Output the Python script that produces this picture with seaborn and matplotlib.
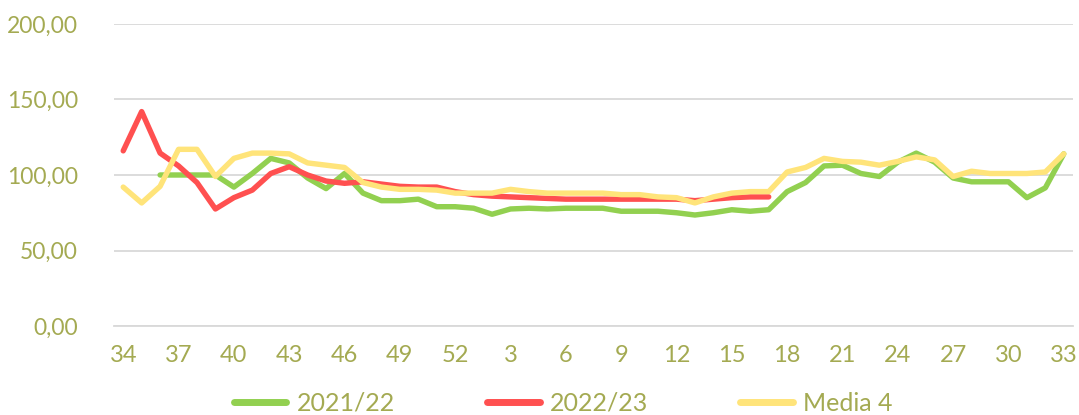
import numpy as np
import pandas as pd
import matplotlib
matplotlib.use("Agg")
import matplotlib.pyplot as plt
import seaborn as sns
from matplotlib.ticker import FixedLocator, FuncFormatter

weeks = list(range(34, 53)) + list(range(1, 34))

s2021 = [None, None, 100, 100, 100, 100, 92, 101, 111, 108, 98, 91, 101, 88, 83, 83, 84, 79, 79,
         78, 74, 77.5, 78, 77.5, 78, 78, 78, 76, 76, 76, 75, 73.5, 75, 77, 76, 77,
         89, 95, 106, 106.5, 101, 99, 108.5, 114.5, 108.5, 98, 95.5, 95.5, 95.5, 85, 91.5, 114]

s2022 = [116, 142, 114.5, 106, 95, 77.5, 85, 90, 101, 105.5, 100, 96, 94.5, 95.5, 94, 92.5, 92, 92, 89,
         87, 86, 85.5, 85, 84.5, 84, 84, 84, 84, 84, 84, 84, 83, 84, 85, 85.5, 85.5,
         None, None, None, None, None, None, None, None, None, None, None, None, None, None, None, None]

media4 = [92, 81.5, 92.5, 117, 117, 99, 111, 114.5, 114.5, 114, 108, 106.5, 105, 95, 92, 90.5, 90.5, 90, 88,
          88, 88, 90.5, 89, 88, 88, 88, 88, 87, 87, 85.5, 85, 81.5, 85.5, 88, 89, 89,
          102, 105, 111, 109, 108.5, 106.5, 109, 112, 110, 99, 102.5, 101, 101, 101, 102, 114]

series_names = ["2021/22", "2022/23", "Media 4"]
colors = ["#92D050", "#FF5050", "#FFE47A"]
text_color = "#A4AA52"

n = len(weeks)
df = pd.concat([
    pd.DataFrame({"pos": np.arange(n), "valor": pd.to_numeric(pd.Series(vals), errors="coerce"), "serie": name})
    for name, vals in zip(series_names, [s2021, s2022, media4])
], ignore_index=True)

sns.set_theme(style="white")
plt.rcParams["font.family"] = ["Lato", "DejaVu Sans"]

fig = plt.figure(figsize=(10.79, 4.15), dpi=100)
ax = fig.add_axes([114/1079, 1 - 326/415, (1073-114)/1079, (326-24)/415])

sns.lineplot(data=df.dropna(), x="pos", y="valor", hue="serie", palette=colors,
             hue_order=series_names, linewidth=3.9, ax=ax, legend=True, sort=False)
for ln in ax.get_lines():
    ln.set_solid_capstyle("round")
    ln.set_solid_joinstyle("round")

ax.set_xlim(-0.5, n - 0.5)
ax.set_ylim(0, 200)
ax.set_yticks([0, 50, 100, 150, 200])
ax.yaxis.set_major_formatter(FuncFormatter(lambda v, p: f"{v:.2f}".replace(".", ",")))
ax.yaxis.grid(True, color="#D9D9D9", linewidth=1.3)
ax.set_axisbelow(True)

major = list(range(0, n, 3))
ax.set_xticks(major)
ax.set_xticklabels([str(weeks[i]) for i in major])
ax.xaxis.set_minor_locator(FixedLocator(np.arange(-0.5, n, 1.0)))
ax.tick_params(axis="x", which="major", length=0, pad=14, labelsize=17, colors=text_color)
ax.tick_params(axis="x", which="minor", length=7, width=1.2, color="#D9D9D9", direction="out")
ax.tick_params(axis="y", length=0, pad=26, labelsize=16.5, colors=text_color)

for side in ["top", "right", "left"]:
    ax.spines[side].set_visible(False)
ax.spines["bottom"].set_color("#D9D9D9")
ax.spines["bottom"].set_linewidth(1.3)
ax.set_xlabel("")
ax.set_ylabel("")

handles, labels = ax.get_legend_handles_labels()
ax.legend_.remove()
leg = fig.legend(handles, labels, loc="center", bbox_to_anchor=(0.522, 1 - 403/415), ncol=3,
                 frameon=False, fontsize=18, handlelength=2.1, columnspacing=3.7, handletextpad=0.4,
                 labelcolor=text_color)
for h in leg.get_lines():
    h.set_linewidth(5)
    h.set_solid_capstyle("round")

fig.savefig("out.png", dpi=100)
